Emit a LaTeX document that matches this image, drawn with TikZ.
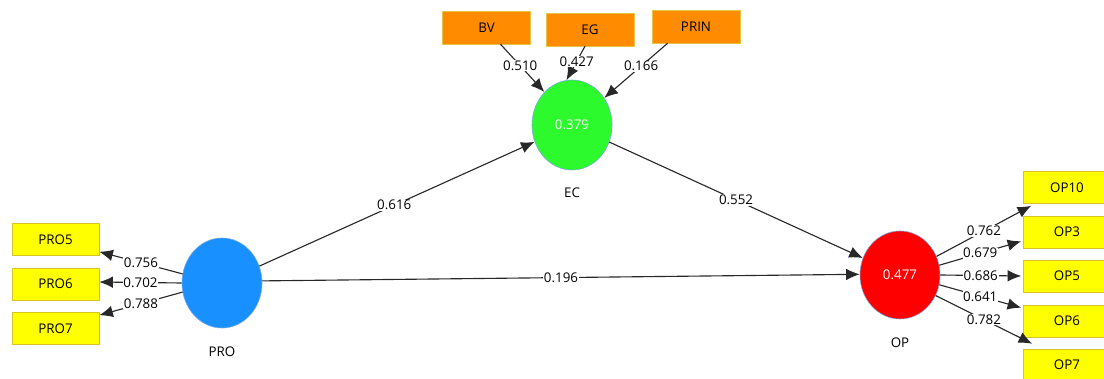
\documentclass[tikz,border=0pt]{standalone}
\usepackage{fontspec}
\setmainfont{Open Sans}
\usetikzlibrary{shapes.geometric,arrows.meta,calc}
\definecolor{indfill}{RGB}{255,255,0}
\definecolor{indline}{RGB}{214,196,40}
\definecolor{formfill}{RGB}{255,140,0}
\definecolor{formline}{RGB}{230,196,70}
\definecolor{ringline}{RGB}{120,170,225}
\definecolor{ecfill}{RGB}{44,250,44}
\definecolor{profill}{RGB}{24,144,255}
\definecolor{opfill}{RGB}{255,0,0}
\definecolor{pathline}{RGB}{40,40,40}
\tikzset{
    every node/.style={
        text=black,
        font=\fontsize{9.5}{11}\selectfont
    }
}
\tikzstyle{ind}=[rectangle, draw=indline, fill=indfill, minimum width=2.175cm, minimum height=0.8cm, inner sep=0pt]
\tikzstyle{form}=[rectangle, draw=formline, fill=formfill, minimum width=2.2cm, minimum height=0.82cm, inner sep=0pt]
\tikzstyle{lv}=[ellipse, draw=ringline, minimum width=2cm, minimum height=2.25cm, inner sep=0pt, text=white]
\tikzstyle{coef}=[fill=white, inner sep=0.5pt]
\tikzstyle{arr}=[draw=pathline, line width=0.8pt, -{Latex[length=3.4mm,width=2.9mm]}]

\begin{document}
\begin{tikzpicture}[x=0.025cm, y=-0.025cm]
\useasboundingbox (0,0) rectangle (1104,379);
\clip (0,0) rectangle (1104,379);

% latent variables
\node[lv, fill=profill] (PRO) at (222, 283) {};
\node[lv, fill=ecfill] (EC) at (572, 125) {0.379};
\node[lv, fill=opfill, minimum height=2.2cm] (OP) at (900, 275) {0.477};

\node (PROname) at (222, 352) {PRO};
\node (ECname) at (572, 193) {EC};
\node (OPname) at (900, 343) {OP};

% indicators
\node[ind] (PRO5) at (55.5, 239.5) {PRO5};
\node[ind] (PRO6) at (55.5, 284) {PRO6};
\node[ind] (PRO7) at (55.5, 328.5) {PRO7};

\node[form] (BV) at (486.5, 27.5) {BV};
\node[form] (EG) at (590, 29.5) {EG};
\node[form] (PRIN) at (696, 26.5) {PRIN};

\node[ind] (OP10) at (1067, 187.5) {OP10};
\node[ind] (OP3) at (1067, 232) {OP3};
\node[ind] (OP5) at (1067, 276) {OP5};
\node[ind] (OP6) at (1067, 321) {OP6};
\node[ind] (OP7) at (1067, 365) {OP7};

% structural paths
\draw [arr] (PRO) -- node[coef, pos=0.49] (cPE) {0.616} (EC);
\draw [arr] (EC) -- node[coef, pos=0.5] (cEO) {0.552} (OP);
\draw [arr] (PRO.3) -- node[coef, pos=0.5] (cPO) {0.196} (OP.179);

% formative weights
\draw [arr] ($(BV.south)+(14,0)$) -- node[coef, pos=0.45] (cBV) {0.510} (EC.130);
\draw [arr] ($(EG.south)+(-5,0)$) -- node[coef, pos=0.45] (cEG) {0.427} (EC.97);
\draw [arr] ($(PRIN.south west)+(16,0)$) -- node[coef, pos=0.42] (cPR) {0.166} (EC.40);

% PRO loadings
\draw [arr] (PRO.167) -- node[coef, pos=0.5] (c5) {0.756} ($(PRO5.south east)+(0,-4)$);
\draw [arr] (PRO.180) -- node[coef, pos=0.5] (c6) {0.702} ($(PRO6.east)+(0,-2)$);
\draw [arr] (PRO.193) -- node[coef, pos=0.5] (c7) {0.788} ($(PRO7.north east)+(0,3)$);

% OP loadings
\draw [arr] (OP.27) -- node[coef, pos=0.5] (c10) {0.762} ($(OP10.south west)+(8,2)$);
\draw [arr] (OP.14) -- node[coef, pos=0.5] (c3) {0.679} ($(OP3.south west)+(-2,-7)$);
\draw [arr] (OP.0) -- node[coef, pos=0.5] (c5o) {0.686} ($(OP5.west)+(-2,0)$);
\draw [arr] (OP.-14) -- node[coef, pos=0.5] (c6o) {0.641} ($(OP6.north west)+(-2,3)$);
\draw [arr] (OP.-30) -- node[coef, pos=0.5] (c7o) {0.782} ($(OP7.north west)+(9,-5)$);

\end{tikzpicture}
\end{document}
